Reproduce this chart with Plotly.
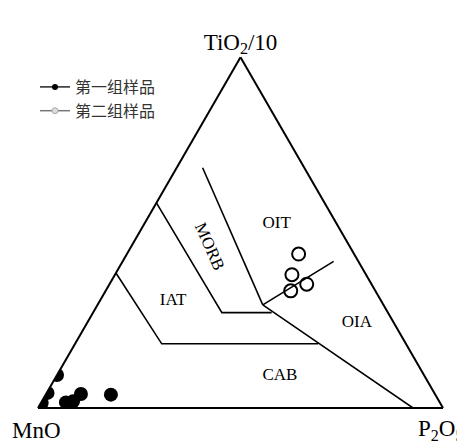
import math
import plotly.graph_objects as go

# ternary: a = TiO2/10 (top), b = MnO (left), c = P2O5 (right)
grupo1_tio2 = [0.094, 0.043, 0.014, 0.016, 0.019, 0.040, 0.038]
grupo1_mno = [0.906, 0.955, 0.984, 0.923, 0.904, 0.874, 0.801]
grupo1_p2o5 = [0.000, 0.002, 0.002, 0.061, 0.077, 0.086, 0.161]

grupo2_tio2 = [0.439, 0.380, 0.353, 0.334]
grupo2_mno = [0.137, 0.183, 0.160, 0.209]
grupo2_p2o5 = [0.424, 0.437, 0.487, 0.457]

# field boundaries (TiO2, MnO, P2O5)
linha_iat = [(0.385, 0.615, 0.000), (0.183, 0.603, 0.214), (0.183, 0.217, 0.600)]
linha_morb = [(0.585, 0.415, 0.000), (0.272, 0.410, 0.318), (0.272, 0.287, 0.441)]
linha_oit = [(0.685, 0.251, 0.064), (0.294, 0.298, 0.408)]
linha_diag = [(0.294, 0.298, 0.408), (0.000, 0.074, 0.926)]
linha_curta = [(0.294, 0.298, 0.408), (0.418, 0.061, 0.521)]

campos = ['OIT', 'IAT', 'OIA', 'CAB']
campos_tio2 = [0.526, 0.307, 0.243, 0.092]
campos_mno = [0.148, 0.513, 0.091, 0.357]
campos_p2o5 = [0.327, 0.180, 0.666, 0.552]
morb_pos = (0.461, 0.345, 0.194)

# page body has an 8px margin, so the figure is a bit smaller than the window
OFF = 8
W, H = 465 - OFF, 444 - OFF
serif = 'Times New Roman, Liberation Serif, serif'

# domain that fits the triangle exactly (corners at 38 and 443, base at 408)
x0 = (38 - OFF) / W
x1 = (443 - OFF) / W
alt = (443 - 38) * math.sqrt(3) / 2
y0 = (H - (408 - OFF)) / H
y1 = y0 + alt / H


def to_paper(a, b, c):
    return x0 + (c + a / 2) * (x1 - x0), y0 + a * (y1 - y0)


fig = go.Figure()

for linha in [linha_iat, linha_morb, linha_oit, linha_diag, linha_curta]:
    fig.add_trace(go.Scatterternary(
        a=[p[0] for p in linha], b=[p[1] for p in linha], c=[p[2] for p in linha],
        mode='lines', line=dict(color='black', width=1.6),
        showlegend=False, hoverinfo='skip'))

fig.add_trace(go.Scatterternary(
    a=grupo1_tio2, b=grupo1_mno, c=grupo1_p2o5, mode='markers',
    marker=dict(size=14, color='black'), showlegend=False))
fig.add_trace(go.Scatterternary(
    a=grupo2_tio2, b=grupo2_mno, c=grupo2_p2o5, mode='markers',
    marker=dict(size=13, color='black', symbol='circle-open', line=dict(width=2)),
    showlegend=False))

fig.add_trace(go.Scatterternary(
    a=campos_tio2, b=campos_mno, c=campos_p2o5, mode='text', text=campos,
    textfont=dict(family=serif, size=17, color='black'),
    showlegend=False, hoverinfo='skip'))

# legend entries
fig.add_trace(go.Scatterternary(
    a=[None], b=[None], c=[None], mode='lines+markers', name='第一组样品',
    line=dict(color='#222', width=1.5), marker=dict(size=6, color='black')))
fig.add_trace(go.Scatterternary(
    a=[None], b=[None], c=[None], mode='lines+markers', name='第二组样品',
    line=dict(color='#777', width=1.5),
    marker=dict(size=6, color='#ddd', line=dict(color='#aaa', width=1))))

mx, my = to_paper(*morb_pos)
fig.add_annotation(x=mx, y=my, xref='paper', yref='paper', text='MORB',
                   showarrow=False, textangle=66,
                   font=dict(family=serif, size=17, color='black'))

# corner labels under the base line
fig.add_annotation(x=(36 - OFF) / W, y=1 - (430 - OFF) / H, xref='paper', yref='paper',
                   text='MnO', showarrow=False, xanchor='center', yanchor='middle',
                   font=dict(family=serif, size=23, color='black'))
fig.add_annotation(x=(441 - OFF) / W, y=1 - (430 - OFF) / H, xref='paper', yref='paper',
                   text='P<sub>2</sub>O<sub>5</sub>', showarrow=False,
                   xanchor='center', yanchor='middle',
                   font=dict(family=serif, size=23, color='black'))

eixo = dict(showticklabels=False, showgrid=False, ticks='', linecolor='black',
            linewidth=2, min=0)

fig.update_layout(
    width=W, height=H,
    margin=dict(l=0, r=0, t=0, b=0, autoexpand=False),
    paper_bgcolor='white', plot_bgcolor='white',
    ternary=dict(
        sum=1, bgcolor='white',
        domain=dict(x=[x0, x1], y=[y0, y1]),
        aaxis=dict(eixo, title=dict(text='TiO<sub>2</sub>/10', font=dict(family=serif, size=23, color='black'))),
        baxis=dict(eixo, title=dict(text='')),
        caxis=dict(eixo, title=dict(text='')),
    ),
    legend=dict(x=(35 - OFF) / W, y=1 - (70 - OFF) / H,
                xanchor='left', yanchor='top', bgcolor='rgba(0,0,0,0)',
                itemwidth=30, tracegroupgap=0,
                font=dict(family='Noto Sans CJK SC', size=16, color='#333')),
)

fig.write_html("out.html")
